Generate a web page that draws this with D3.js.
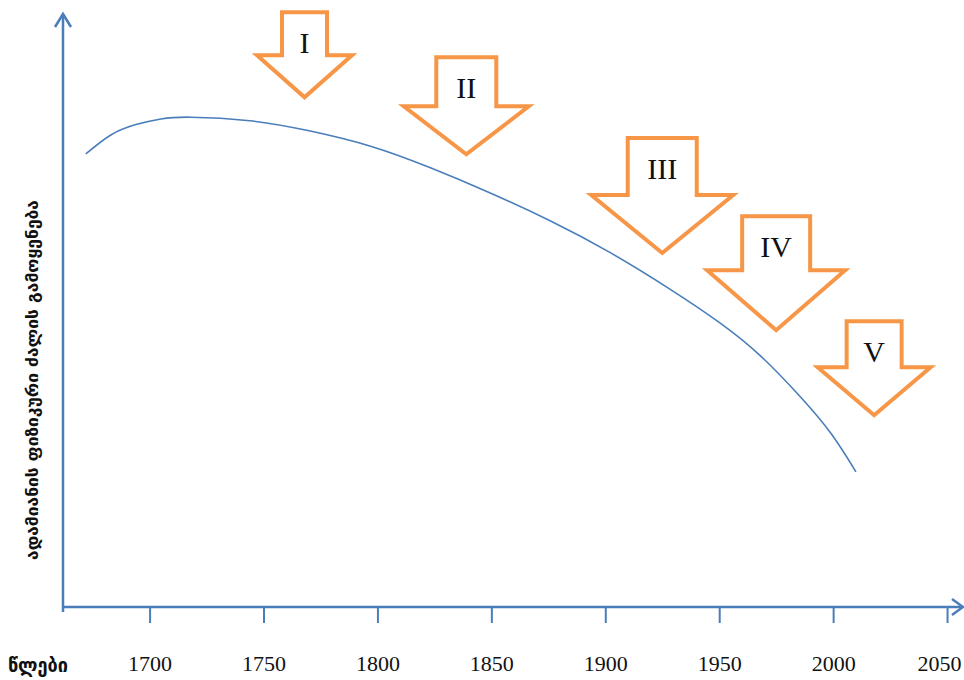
<!DOCTYPE html>
<html>
<head>
<meta charset="utf-8">
<script src="https://cdn.jsdelivr.net/npm/d3@7"></script>
<style>
  body { margin: 0; background: #fff; }
  svg { display: block; }
</style>
</head>
<body>
<div id="chart"></div>
<script>
// curve: relative use of human physical force over time (unitless)
const years = [1672, 1683, 1694, 1705, 1718, 1744, 1770, 1797, 1823, 1849, 1876, 1902, 1928, 1950, 1968, 1985, 1999, 2010];
const forceValues = [76.4, 79.6, 81.35, 82.3, 82.6, 82.0, 80.3, 77.7, 74.1, 69.9, 65.1, 59.8, 53.7, 48.0, 42.4, 35.7, 29.3, 22.8];

const tickYears = [1700, 1750, 1800, 1850, 1900, 1950, 2000, 2050];

// stage arrows (I..V): centre year and top level on the same scale
const stageLabels = ["I", "II", "III", "IV", "V"];
const stageYears = [1768, 1839, 1925, 1975, 2018];
const stageTops = [100.3, 92.7, 79.1, 65.9, 48.2];

const xLabel = "წლები";
const yLabel = "ადამიანის ფიზიკური ძალის გამოყენება";

// arrow shapes in px: [shaft half width, head half width, shaft length, head length]
const arrowShapes = [
  [22.5, 47.5, 43, 42],
  [30, 62.5, 49, 48],
  [34.5, 71, 57, 58],
  [34, 69, 54, 60],
  [27.5, 56.5, 46, 48]
];

const width = 964, height = 680;
const axisColor = "#4a7ebb";
const orange = "#f79646";

const svg = d3.select("#chart").append("svg")
  .attr("width", width)
  .attr("height", height);

const x = d3.scaleLinear().domain([1662, 2057]).range([63, 963]);
const y = d3.scaleLinear().domain([0, 100]).range([607, 14]);

// axes
const x0 = x.range()[0], y0 = y(0);

svg.append("line")
  .attr("x1", x0).attr("x2", x0)
  .attr("y1", y0 + 5).attr("y2", y.range()[1])
  .attr("stroke", axisColor).attr("stroke-width", 2.5);

svg.append("path")
  .attr("d", `M${x0 - 8},${y.range()[1] + 13} L${x0},${y.range()[1]} L${x0 + 8},${y.range()[1] + 13}`)
  .attr("fill", "none").attr("stroke", axisColor).attr("stroke-width", 2.5);

svg.append("line")
  .attr("x1", x0).attr("x2", x.range()[1])
  .attr("y1", y0).attr("y2", y0)
  .attr("stroke", axisColor).attr("stroke-width", 2.5);

svg.append("path")
  .attr("d", `M${x.range()[1] - 11},${y0 - 8} L${x.range()[1]},${y0} L${x.range()[1] - 11},${y0 + 8}`)
  .attr("fill", "none").attr("stroke", axisColor).attr("stroke-width", 2.5);

const xAxis = svg.append("g")
  .attr("transform", `translate(0,${y0})`)
  .call(d3.axisBottom(x).tickValues(tickYears).tickSize(16).tickPadding(32).tickFormat(d3.format("d")));

xAxis.select(".domain").remove();
xAxis.selectAll(".tick line")
  .attr("stroke", axisColor).attr("stroke-width", 2);
xAxis.selectAll(".tick text")
  .attr("fill", "#111")
  .attr("dx", d => d === tickYears[tickYears.length - 1] ? -8 : 0)
  .style("font-family", "'Liberation Serif', serif")
  .style("font-size", "22px");

svg.append("text")
  .attr("x", 8).attr("y", 672)
  .attr("textLength", 60)
  .attr("lengthAdjust", "spacingAndGlyphs")
  .style("font-family", "'DejaVu Sans', sans-serif")
  .style("font-weight", "bold")
  .style("font-size", "19px")
  .attr("fill", "#111")
  .text(xLabel);

svg.append("text")
  .attr("transform", "translate(38,380) rotate(-90)")
  .attr("text-anchor", "middle")
  .attr("textLength", 360)
  .attr("lengthAdjust", "spacingAndGlyphs")
  .style("font-family", "'DejaVu Sans', sans-serif")
  .style("font-weight", "bold")
  .style("font-size", "16px")
  .attr("fill", "#111")
  .text(yLabel);

// the curve
const line = d3.line()
  .x((d, i) => x(years[i]))
  .y(d => y(d))
  .curve(d3.curveNatural);

svg.append("path")
  .datum(forceValues)
  .attr("d", line)
  .attr("fill", "none")
  .attr("stroke", axisColor)
  .attr("stroke-width", 1.6);

// stage arrows
const stages = stageLabels.map((label, i) => ({
  label,
  cx: x(stageYears[i]),
  top: y(stageTops[i]),
  shape: arrowShapes[i]
}));

const arrowPath = d => {
  const [sw, hw, sl, hl] = d.shape;
  const cx = d.cx, t = d.top;
  return `M${cx - sw},${t} L${cx + sw},${t} L${cx + sw},${t + sl} L${cx + hw},${t + sl}` +
    ` L${cx},${t + sl + hl} L${cx - hw},${t + sl} L${cx - sw},${t + sl} Z`;
};

const g = svg.selectAll(".stage")
  .data(stages)
  .join("g")
  .attr("class", "stage");

g.append("path")
  .attr("d", arrowPath)
  .attr("fill", "#fff")
  .attr("stroke", orange)
  .attr("stroke-width", 4)
  .attr("stroke-linejoin", "miter");

g.append("text")
  .attr("x", d => d.cx)
  .attr("y", d => d.top + 41)
  .attr("text-anchor", "middle")
  .style("font-family", "'Liberation Serif', serif")
  .style("font-size", "30px")
  .attr("fill", "#111")
  .text(d => d.label);
</script>
</body>
</html>
